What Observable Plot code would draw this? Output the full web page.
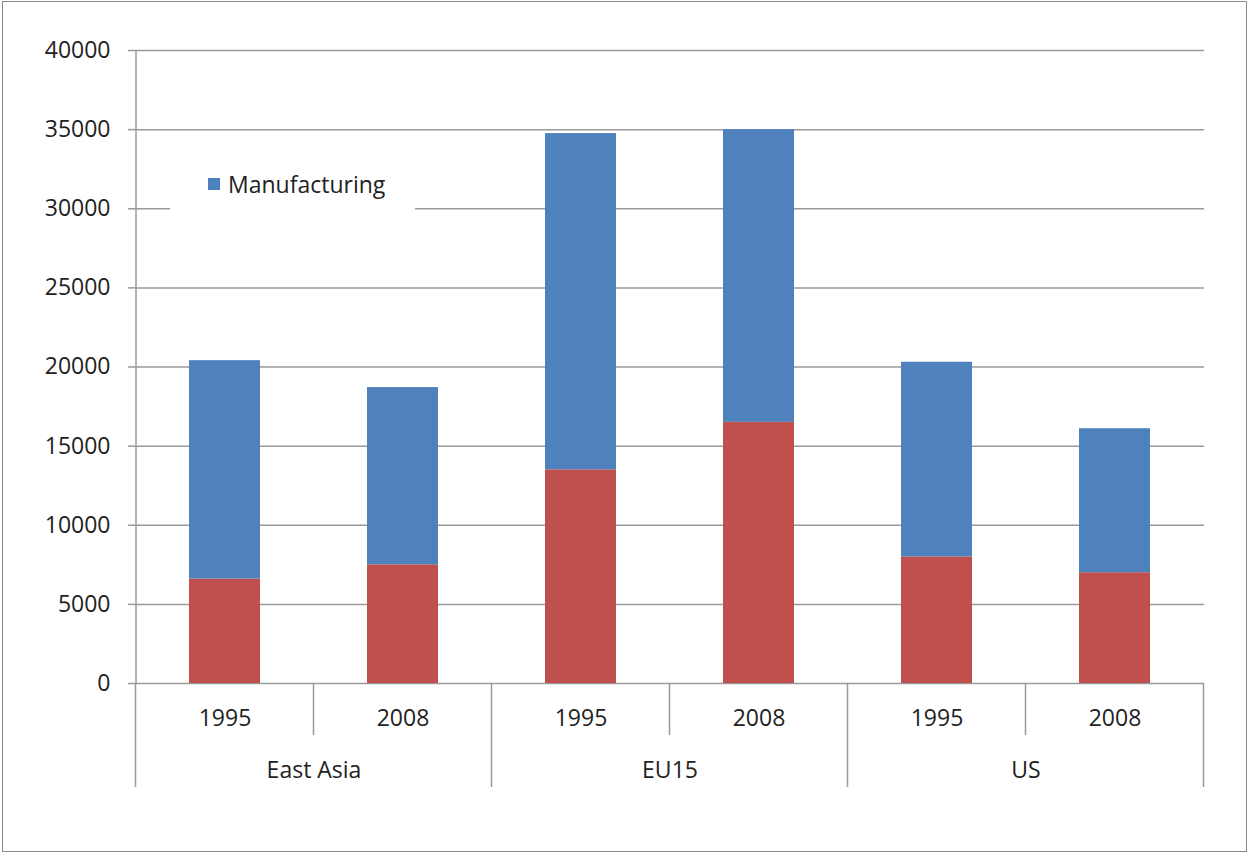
<!DOCTYPE html>
<html>
<head>
<meta charset="utf-8">
<script src="https://cdn.jsdelivr.net/npm/d3@7"></script>
<script src="https://cdn.jsdelivr.net/npm/@observablehq/plot@0.6"></script>
<style>
  html, body { margin: 0; padding: 0; background: #fff; }
  #wrap { position: relative; width: 1251px; height: 856px; overflow: hidden; }
  #frame { position: absolute; left: 2px; top: 1px; width: 1245px; height: 851px; border: 1.5px solid #8a8a8a; box-sizing: border-box; pointer-events: none; }
  #legend { position: absolute; left: 170px; top: 150px; width: 245px; height: 66px; background: #fff;
            font-family: "Open Sans", sans-serif; font-size: 23px; color: #222; }
  #legend .sw { position: absolute; left: 38px; top: 28px; width: 12px; height: 12px; background: #4F81BD; }
  #legend .lb { position: absolute; left: 58px; top: 18px; line-height: 32px; }
</style>
</head>
<body>
<div id="wrap">
  <div id="chart"></div>
  <div id="legend"><span class="sw"></span><span class="lb">Manufacturing</span></div>
  <div id="frame"></div>
</div>
<script>
// ---- data ----
const regions = ["East Asia", "EU15", "US"];
const years = ["1995", "2008"];
// bottom (red) segment, per region × year
const otherValues = [6600, 7500, 13500, 16500, 8000, 7000];
// top (blue) segment: Manufacturing
const manufacturingValues = [13800, 11200, 21250, 18500, 12300, 9100];
const yTicks = [0, 5000, 10000, 15000, 20000, 25000, 30000, 35000, 40000];
const seriesNames = ["Manufacturing", "Other"];
const seriesColors = ["#4F81BD", "#C0504D"];

// ---- build table ----
const keys = [];
const rows = [];
regions.forEach((r, ri) => years.forEach((y, yi) => {
  const i = ri * years.length + yi;
  const key = r + " " + y;
  keys.push({key, region: r, year: y});
  rows.push({key, region: r, year: y, series: "Other", value: otherValues[i]});
  rows.push({key, region: r, year: y, series: "Manufacturing", value: manufacturingValues[i]});
}));

const W = 1251, H = 856;
const mL = 136, mR = 47, mT = 50, mB = 173;
const font = '"Open Sans", sans-serif';
const fs = 23;
const gray = "#9a9a9a";

// custom axis decorations (y axis line, category separators)
function decorations(index, scales, values, dims) {
  const g = d3.create("svg:g").attr("stroke", gray).attr("stroke-width", 1.5);
  const x = scales.x, bw = x.bandwidth();
  const step = x.step ? x.step() : bw / 0.4;
  const y0 = dims.height - dims.marginBottom;
  // y axis line
  g.append("line").attr("x1", dims.marginLeft).attr("x2", dims.marginLeft)
    .attr("y1", dims.marginTop).attr("y2", y0);
  keys.forEach((k, i) => {
    const right = x(k.key) + bw / 2 + step / 2;
    const left = x(k.key) + bw / 2 - step / 2;
    const isRegionEnd = k.year === years[years.length - 1];
    g.append("line").attr("x1", right).attr("x2", right)
      .attr("y1", y0).attr("y2", y0 + (isRegionEnd ? 104 : 52));
    if (i === 0) {
      g.append("line").attr("x1", left).attr("x2", left).attr("y1", y0).attr("y2", y0 + 104);
    }
  });
  return g.node();
}

const chart = Plot.plot({
  width: W, height: H,
  marginLeft: mL, marginRight: mR, marginTop: mT, marginBottom: mB,
  style: {fontFamily: font, fontSize: fs + "px", color: "#222", background: "transparent"},
  x: {domain: keys.map(d => d.key), paddingInner: 0.6, paddingOuter: 0.3, axis: null},
  y: {domain: [0, 40000], axis: null},
  color: {domain: seriesNames, range: seriesColors},
  marks: [
    Plot.gridY(yTicks, {stroke: gray, strokeOpacity: 1, strokeWidth: 1.5}),
    Plot.axisY(yTicks, {tickSize: 8, tickPadding: 18, tickFormat: d => String(d), stroke: gray,
                        strokeWidth: 1.5, fontSize: fs, fill: "#222", label: null}),
    Plot.barY(rows, {x: "key", y: "value", fill: "series", order: ["Other", "Manufacturing"]}),
    decorations,
    Plot.text(keys, {x: "key", text: "year", frameAnchor: "bottom", dy: 42, fontSize: fs, fill: "#222"}),
    Plot.text(keys.filter(k => k.year === years[0]), {x: "key", text: "region", frameAnchor: "bottom",
              dy: 94, dx: 89, fontSize: fs, fill: "#222"})
  ]
});
document.getElementById("chart").appendChild(chart);
</script>
</body>
</html>
